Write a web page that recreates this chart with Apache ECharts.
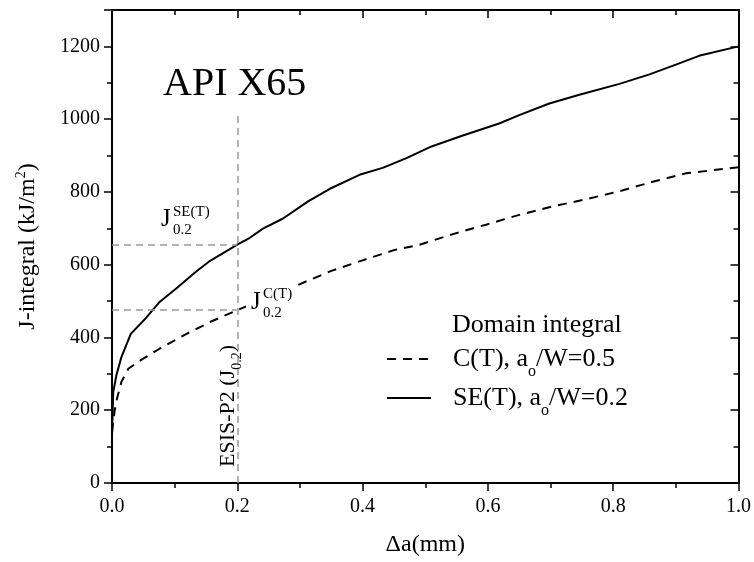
<!DOCTYPE html>
<html>
<head>
<meta charset="utf-8">
<script src="https://cdn.jsdelivr.net/npm/echarts@6/dist/echarts.min.js"></script>
<style>html,body{margin:0;padding:0;background:#fff}#c{width:754px;height:562px}</style>
</head>
<body>
<div id="c"></div>
<script>
// ---- data ----
const xSE = [0, 0.002, 0.007, 0.015, 0.030, 0.055, 0.075, 0.103, 0.132, 0.156, 0.2, 0.22, 0.241, 0.273, 0.313, 0.347, 0.395, 0.432, 0.470, 0.51, 0.56, 0.618, 0.65, 0.698, 0.746, 0.810, 0.858, 0.9, 0.937, 1.0];
const jSE = [130, 250, 296, 346, 410, 455, 496, 535, 578, 610, 655, 674, 699, 727, 774, 808, 847, 866, 893, 925, 955, 988, 1011, 1043, 1067, 1097, 1123, 1150, 1174, 1200];
const xCT = [0, 0.004, 0.008, 0.015, 0.026, 0.049, 0.076, 0.119, 0.161, 0.2, 0.25, 0.299, 0.35, 0.40, 0.45, 0.491, 0.544, 0.597, 0.650, 0.703, 0.757, 0.810, 0.863, 0.916, 0.96, 1.0];
const jCT = [140, 196, 232, 278, 314, 341, 369, 410, 446, 475, 512, 546, 583, 612, 640, 655, 684, 710, 737, 760, 780, 802, 828, 851, 860, 868];
const seriesNames = ['C(T), a_o/W=0.5', 'SE(T), a_o/W=0.2'];
const xTickLabels = ['0.0', '0.2', '0.4', '0.6', '0.8', '1.0'];
const yTickLabels = ['0', '200', '400', '600', '800', '1000', '1200'];
const refX = 0.2;          // ESIS-P2 J0.2 offset
const refJSE = 655;        // J0.2 SE(T)
const refJCT = 475;        // J0.2 C(T)
const refTop = 1010;       // top of vertical reference line
const xRange = [0, 1];
const yRange = [0, 1300];

// ---- chart ----
const chart = echarts.init(document.getElementById('c'), null, {renderer: 'canvas'});
const FONT = '"Liberation Serif", "Times New Roman", serif';
const black = '#000';

function mkX(pos, interval, len, inside, labels, line, name) {
  return {
    type: 'value', position: pos, min: xRange[0], max: xRange[1], interval: interval,
    axisLine: {show: line, onZero: false, lineStyle: {color: black, width: 2}},
    axisTick: {show: true, inside: inside, length: len, lineStyle: {color: black, width: 1.5}},
    axisLabel: labels ? {show: true, margin: 14, color: black, fontFamily: FONT, fontSize: 20,
      formatter: v => { const s = v.toFixed(1); return xTickLabels.indexOf(s) >= 0 ? s : ''; }} : {show: false},
    splitLine: {show: false},
    name: name || '', nameLocation: 'middle', nameGap: 50,
    nameTextStyle: {color: black, fontFamily: FONT, fontSize: 24}
  };
}
function mkY(pos, interval, len, inside, labels, line, name) {
  return {
    type: 'value', position: pos, min: yRange[0], max: yRange[1], interval: interval,
    axisLine: {show: line, onZero: false, lineStyle: {color: black, width: 2}},
    axisTick: {show: true, inside: inside, length: len, lineStyle: {color: black, width: 1.5}},
    axisLabel: labels ? {show: true, margin: 12, color: black, fontFamily: FONT, fontSize: 20,
      formatter: v => { const s = String(Math.round(v)); return yTickLabels.indexOf(s) >= 0 ? s : ''; }} : {show: false},
    splitLine: {show: false},
    name: name || '', nameLocation: 'middle', nameGap: 70,
    nameTextStyle: {color: black, fontFamily: FONT, fontSize: 24,
      rich: {a: {fontFamily: FONT, fontSize: 24, color: black, lineHeight: 28},
             s: {fontFamily: FONT, fontSize: 14, color: black, verticalAlign: 'top', lineHeight: 28}}}
  };
}

const refLine = {type: [7, 5], color: '#999', width: 1.5};

const option = {
  animation: false,
  backgroundColor: '#fff',
  grid: {left: 112, right: 15, top: 10, bottom: 77, containLabel: false},
  xAxis: [
    mkX('bottom', 0.2, 8, false, true, true, 'Δa(mm)'),
    mkX('bottom', 0.1, 5, false, false, false),
    mkX('top', 0.2, 8, true, false, true),
    mkX('top', 0.1, 5, true, false, false)
  ],
  yAxis: [
    mkY('left', 200, 8, false, true, true, '{a|J-integral (kJ/m}{s|2}{a|)}'),
    mkY('left', 100, 5, false, false, false),
    mkY('right', 200, 8, true, false, true),
    mkY('right', 100, 5, true, false, false)
  ],
  legend: {
    show: true,
    orient: 'vertical', left: 381, top: 341, itemWidth: 44, itemHeight: 14, itemGap: 5,
    data: seriesNames,
    itemStyle: {opacity: 0, borderWidth: 0},
    textStyle: {color: black, fontFamily: FONT, fontSize: 26, padding: [0, 0, 0, 17],
      rich: {n: {fontFamily: FONT, fontSize: 26, color: black, lineHeight: 30},
             o: {fontFamily: FONT, fontSize: 16, color: black, verticalAlign: 'bottom', lineHeight: 30, padding: [0, 0, -6, 0]}}},
    formatter: name => { const p = name.split('_o'); return '{n|' + p[0] + '}{o|o}{n|' + p[1] + '}'; }
  },
  series: [
    {
      name: seriesNames[0], type: 'line', xAxisIndex: 0, yAxisIndex: 0, showSymbol: false, symbol: 'none',
      data: xCT.map((x, i) => [x, jCT[i]]),
      lineStyle: {color: black, width: 2, type: [9, 7]},
      itemStyle: {color: black},
      z: 3,
      markLine: {
        silent: true, symbol: 'none', label: {show: false}, lineStyle: refLine, animation: false,
        data: [
          [{coord: [xRange[0], refJSE]}, {coord: [refX, refJSE]}],
          [{coord: [xRange[0], refJCT]}, {coord: [refX, refJCT]}],
          [{coord: [refX, yRange[0]]}, {coord: [refX, refTop]}]
        ]
      }
    },
    {
      name: seriesNames[1], type: 'line', xAxisIndex: 0, yAxisIndex: 0, showSymbol: false, symbol: 'none',
      data: xSE.map((x, i) => [x, jSE[i]]),
      lineStyle: {color: black, width: 2, type: 'solid'},
      itemStyle: {color: black},
      z: 3
    }
  ],
  graphic: [
    {type: 'text', z: 100, left: 163, top: 64, style: {text: 'API X65', fontFamily: FONT, fontSize: 40, fill: black}},
    {type: 'text', z: 100, left: 452, top: 312, style: {text: 'Domain integral', fontFamily: FONT, fontSize: 26, fill: black}},
    // J0.2 SE(T)
    {type: 'text', z: 100, left: 161, top: 207, style: {text: 'J', fontFamily: FONT, fontSize: 25, fill: black}},
    {type: 'text', z: 100, left: 173, top: 205, style: {text: 'SE(T)', fontFamily: FONT, fontSize: 15, fill: black}},
    {type: 'text', z: 100, left: 173, top: 223, style: {text: '0.2', fontFamily: FONT, fontSize: 15, fill: black}},
    // J0.2 C(T) with white backing
    {type: 'rect', z: 99, shape: {x: 246, y: 284, width: 50, height: 38}, style: {fill: '#fff'}},
    {type: 'text', z: 100, left: 251, top: 290, style: {text: 'J', fontFamily: FONT, fontSize: 25, fill: black}},
    {type: 'text', z: 100, left: 263, top: 287, style: {text: 'C(T)', fontFamily: FONT, fontSize: 15, fill: black}},
    {type: 'text', z: 100, left: 263, top: 306, style: {text: '0.2', fontFamily: FONT, fontSize: 15, fill: black}},
    // rotated ESIS-P2 label
    {type: 'text', z: 100, x: 228, y: 406, rotation: Math.PI / 2,
      style: {text: '{a|ESIS-P2 (J}{b|0.2}{a|)}', align: 'center', verticalAlign: 'middle', fill: black,
        rich: {a: {fontFamily: FONT, fontSize: 22, fill: black, lineHeight: 26},
               b: {fontFamily: FONT, fontSize: 14, fill: black, verticalAlign: 'bottom', lineHeight: 32}}}}
  ]
};
chart.setOption(option);
</script>
</body>
</html>
